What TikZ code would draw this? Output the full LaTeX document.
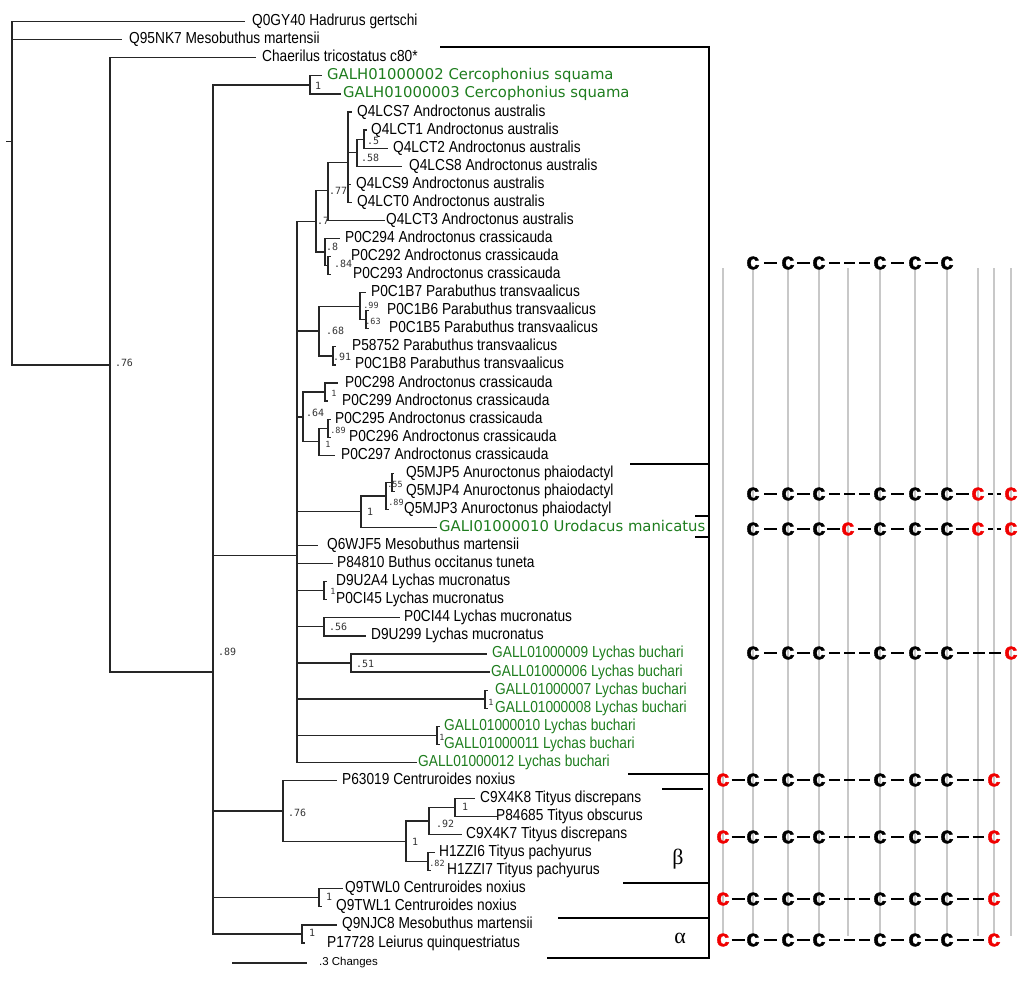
\documentclass[tikz,border=0pt]{standalone}
\usepackage{fontspec}
\setmainfont{Liberation Sans}[FakeStretch=0.86]
\newfontfamily\plainf{Liberation Sans}
\newfontfamily\djv{DejaVu Sans}
\newfontfamily\monof{DejaVu Sans Mono}
\newfontfamily\cfont{Liberation Mono}[BoldFeatures={FakeBold=2,FakeStretch=1.15}]
\newfontfamily\grk{Liberation Serif}
\definecolor{tg}{RGB}{30,125,30}
\definecolor{gl}{RGB}{200,200,200}
\definecolor{cred}{RGB}{240,0,0}
\tikzset{
 br/.style={line width=1.2bp, black!85},
 leaf/.style={anchor=west, inner sep=0pt, font=\fontsize{16}{16}\selectfont, text height=11.5bp, text depth=3.5bp},
 gleaf/.style={leaf, text=tg},
 wleaf/.style={leaf, text=tg, font=\djv\fontsize{14.9}{15}\selectfont},
 sup/.style={inner sep=0pt, font=\monof\fontsize{10}{10}\selectfont, text=black!80},
 supsm/.style={sup, font=\monof\fontsize{8.5}{8.5}\selectfont},
 bar/.style={line width=2.4bp},
 gridline/.style={gl, line width=1.6bp},
 cc/.style={inner sep=0pt, font=\cfont\bfseries\fontsize{19}{19}\selectfont},
 cr/.style={cc, text=cred},
 dashseg/.style={line width=2.6bp},
}
\newcommand\leaf[6][leaf]{%
  \coordinate (#2) at (#4,{21.7+(#3-1)*18.065});
  \node[#1] (#2-l) at ({#5-1},{21.7+(#3-1)*18.065}) {#6};}
\newcommand\cdash[4]{%
  \ifnum#4=1
    \draw[dashseg] ({(#1+#2)/2-6.5},#3) -- ({(#1+#2)/2+6.5},#3);
  \else
    \pgfmathsetmacro\dA{#1+10}%
    \pgfmathsetmacro\dL{((#2-10)-(#1+10)-4*(#4-1))/#4}%
    \foreach \k in {1,...,#4}{\draw[dashseg] ({\dA+(\k-1)*(\dL+4)},#3) -- ++(\dL,0);}%
  \fi}
\begin{document}
\begin{tikzpicture}[x=1bp,y=-1bp]
\useasboundingbox (0,0) rectangle (1024,984);
% internal nodes
\coordinate (root) at (12,141.8);
\coordinate (stub) at (6,141.8);
\coordinate (n76a) at (110,364.9);
\coordinate (n89) at (213,672);
\coordinate (nGALH) at (310,85.0);
\coordinate (nB) at (297,555.6);
\coordinate (n7) at (316,221.4);
\coordinate (n77) at (328,190.7);
\coordinate (nAA) at (348,162.8);
\coordinate (n58) at (357,152.6);
\coordinate (n5) at (364,139.1);
\coordinate (n8) at (325,252.0);
\coordinate (n84) at (328,265.6);
\coordinate (n68) at (319,331.0);
\coordinate (n99) at (360,306.2);
\coordinate (n63) at (366,319.7);
\coordinate (n91) at (333,355.9);
\coordinate (n64) at (303,416.9);
\coordinate (n1a) at (325,392.0);
\coordinate (n1b) at (319,441.7);
\coordinate (n89b) at (328,428.1);
\coordinate (n1c) at (361,511.7);
\coordinate (n89c) at (386,495.9);
\coordinate (n55) at (392,482.3);
\coordinate (nD9) at (324,590.7);
\coordinate (n56) at (324,626.8);
\coordinate (n51) at (351,663.0);
\coordinate (nG78) at (485,699.0);
\coordinate (nG1011) at (437,735.2);
\coordinate (n76b) at (283,810.9);
\coordinate (n1e) at (406,841.3);
\coordinate (n92) at (429,821.0);
\coordinate (n1d) at (455,807.5);
\coordinate (nH) at (428,861.7);
\coordinate (nQ9) at (319,897.8);
\coordinate (nA) at (302,933.9);
% leaves
\leaf{L1}{1}{245}{253}{Q0GY40 Hadrurus gertschi}
\leaf{L2}{2}{122}{130}{Q95NK7 Mesobuthus martensii}
\leaf{L3}{3}{256}{263}{Chaerilus tricostatus c80*}
\leaf[wleaf]{L4}{4}{322}{328}{GALH01000002 Cercophonius squama}
\leaf[wleaf]{L5}{5}{341}{344}{GALH01000003 Cercophonius squama}
\leaf{L6}{6}{352}{358}{Q4LCS7 Androctonus australis}
\leaf{L7}{7}{367}{372}{Q4LCT1 Androctonus australis}
\leaf{L8}{8}{388}{394}{Q4LCT2 Androctonus australis}
\leaf{L9}{9}{402}{410}{Q4LCS8 Androctonus australis}
\leaf{L10}{10}{351}{357}{Q4LCS9 Androctonus australis}
\leaf{L11}{11}{352}{358}{Q4LCT0 Androctonus australis}
\leaf{L12}{12}{385}{387}{Q4LCT3 Androctonus australis}
\leaf{L13}{13}{340}{346}{P0C294 Androctonus crassicauda}
\leaf{L14}{14}{331}{352}{P0C292 Androctonus crassicauda}
\leaf{L15}{15}{331}{354}{P0C293 Androctonus crassicauda}
\leaf{L16}{16}{366}{372}{P0C1B7 Parabuthus transvaalicus}
\leaf{L17}{17}{369}{388}{P0C1B6 Parabuthus transvaalicus}
\leaf{L18}{18}{369}{390}{P0C1B5 Parabuthus transvaalicus}
\leaf{L19}{19}{336}{353}{P58752 Parabuthus transvaalicus}
\leaf{L20}{20}{336}{356}{P0C1B8 Parabuthus transvaalicus}
\leaf{L21}{21}{338}{346}{P0C298 Androctonus crassicauda}
\leaf{L22}{22}{328}{343}{P0C299 Androctonus crassicauda}
\leaf{L23}{23}{331}{336}{P0C295 Androctonus crassicauda}
\leaf{L24}{24}{331}{350}{P0C296 Androctonus crassicauda}
\leaf{L25}{25}{335}{342}{P0C297 Androctonus crassicauda}
\leaf{L26}{26}{394}{407}{Q5MJP5 Anuroctonus phaiodactyl}
\leaf{L27}{27}{395}{407}{Q5MJP4 Anuroctonus phaiodactyl}
\leaf{L28}{28}{389}{405}{Q5MJP3 Anuroctonus phaiodactyl}
\leaf[wleaf]{L29}{29}{437}{440}{GALI01000010 Urodacus manicatus}
\leaf{L30}{30}{318}{328}{Q6WJF5 Mesobuthus martensii}
\leaf{L31}{31}{333}{338}{P84810 Buthus occitanus tuneta}
\leaf{L32}{32}{327}{337}{D9U2A4 Lychas mucronatus}
\leaf{L33}{33}{327}{337}{P0CI45 Lychas mucronatus}
\leaf{L34}{34}{400}{405}{P0CI44 Lychas mucronatus}
\leaf{L35}{35}{366}{372}{D9U299 Lychas mucronatus}
\leaf[gleaf]{L36}{36}{487}{493}{GALL01000009 Lychas buchari}
\leaf[gleaf]{L37}{37}{490}{492}{GALL01000006 Lychas buchari}
\leaf[gleaf]{L38}{38}{488}{496}{GALL01000007 Lychas buchari}
\leaf[gleaf]{L39}{39}{488}{496}{GALL01000008 Lychas buchari}
\leaf[gleaf]{L40}{40}{440}{445}{GALL01000010 Lychas buchari}
\leaf[gleaf]{L41}{41}{440}{445}{GALL01000011 Lychas buchari}
\leaf[gleaf]{L42}{42}{417}{419}{GALL01000012 Lychas buchari}
\leaf{L43}{43}{337}{343}{P63019 Centruroides noxius}
\leaf{L44}{44}{475}{481}{C9X4K8 Tityus discrepans}
\leaf{L45}{45}{497}{497}{P84685 Tityus obscurus}
\leaf{L46}{46}{462}{467}{C9X4K7 Tityus discrepans}
\leaf{L47}{47}{435}{440}{H1ZZI6 Tityus pachyurus}
\leaf{L48}{48}{431}{448}{H1ZZI7 Tityus pachyurus}
\leaf{L49}{49}{343}{346}{Q9TWL0 Centruroides noxius}
\leaf{L50}{50}{322}{337}{Q9TWL1 Centruroides noxius}
\leaf{L51}{51}{337}{343}{Q9NJC8 Mesobuthus martensii}
\leaf{L52}{52}{305}{328}{P17728 Leiurus quinquestriatus}
% branches
\draw[br] (root) -- (stub);
\foreach \p/\c in {root/L1,root/L2,root/n76a,n76a/L3,n76a/n89,
  n89/nGALH,n89/nB,n89/n76b,n89/nQ9,n89/nA,nGALH/L4,nGALH/L5,
  nB/n7,nB/n68,nB/n64,nB/n1c,nB/L30,nB/L31,nB/nD9,nB/n56,nB/n51,nB/nG78,nB/nG1011,nB/L42,
  n7/n77,n7/n8,n77/nAA,n77/L12,nAA/L6,nAA/n58,nAA/L10,nAA/L11,n58/n5,n58/L9,n5/L7,n5/L8,
  n8/L13,n8/n84,n84/L14,n84/L15,n68/n99,n68/n91,n99/L16,n99/n63,n63/L17,n63/L18,n91/L19,n91/L20,
  n64/n1a,n64/n1b,n1a/L21,n1a/L22,n1b/n89b,n1b/L25,n89b/L23,n89b/L24,
  n1c/n89c,n1c/L29,n89c/n55,n89c/L28,n55/L26,n55/L27,
  nD9/L32,nD9/L33,n56/L34,n56/L35,n51/L36,n51/L37,nG78/L38,nG78/L39,nG1011/L40,nG1011/L41,
  n76b/L43,n76b/n1e,n1e/n92,n1e/nH,n92/n1d,n92/L46,n1d/L44,n1d/L45,nH/L47,nH/L48,
  nQ9/L49,nQ9/L50,nA/L51,nA/L52}
  {\draw[br] (\p) |- (\c);}
% support values
\foreach \n/\x/\y/\t in {s1/318/86/1,s2/373/141/.5,s3/370/158/.58,s4/338/191/.77,s5/323/221/.7,
  s6/332/247/.8,s7/343/264/.84,s8/335/331/.68,s9/342/357/.91,s10/315/413/.64,s11/370/512/1,
  s12/338/627/.56,s13/365/664/.51,s14/227/652/.89,s15/124/363/.76,s16/297/813/.76,
  s17/465/807/1,s18/445/824/.92,s19/415/842/1,s20/329/897/1,s21/312/933/1}
  {\node[sup] (\n) at (\x,\y) {\t};}
\foreach \n/\x/\y/\t in {t1/371/305/.99,t2/373/321/.63,t3/334/393/1,t4/338/430/.89,t5/328/444/1,
  t6/395/484/.55,t7/396/502/.89,t8/333/591/1,t9/491/702/1,t10/442/737/1,t11/437/863/.82}
  {\node[supsm] (\n) at (\x,\y) {\t};}
% scale bar
\coordinate (sb1) at (232,963);
\coordinate (sb2) at (307,963);
\node[anchor=west, inner sep=0pt, font=\plainf\fontsize{11.5}{12}\selectfont] (sbl) at (319,963) {.3 Changes};
\draw[br] (sb1) -- (sb2);
% brackets
\coordinate (bt) at (440,47);
\coordinate (bc) at (709,47);
\coordinate (bb) at (709,958);
\coordinate (be) at (547,958);
\draw[bar] (bt) -- (bc) -- (bb) -- (be);
\foreach \a/\b/\y in {630/709/464,695/709/516,695/709/537,628/709/774,662/703/789,623/709/883,558/709/918}
  {\draw[bar] (\a,\y) -- (\b,\y);}
\node[inner sep=0pt, font=\grk\fontsize{22}{22}\selectfont] (beta) at (678,859) {β};
\node[inner sep=0pt, font=\grk\fontsize{22}{22}\selectfont] (alpha) at (680,938) {α};
% cysteine grid
\foreach \x in {723,753,788,819,848,880,915,947,978,994,1011}
  {\draw[gridline] (\x,268) -- (\x,936);}
% row A
\foreach \x in {753,788,819,880,915,947} {\node[cc] (ca\x) at (\x,263) {C};}
\foreach \a/\b/\n in {753/788/1,788/819/1,819/880/3,880/915/1,915/947/1} {\cdash{\a}{\b}{263}{\n}}
% row B
\foreach \x in {753,788,819,880,915,947} {\node[cc] (cb\x) at (\x,494) {C};}
\foreach \x in {978,1011} {\node[cr] (cb\x) at (\x,494) {C};}
\foreach \a/\b/\n in {753/788/1,788/819/1,819/880/3,880/915/1,915/947/1,947/978/1,978/1011/2} {\cdash{\a}{\b}{494}{\n}}
% row C
\foreach \x in {753,788,819,880,915,947} {\node[cc] (cc\x) at (\x,529) {C};}
\foreach \x in {848,978,1011} {\node[cr] (cc\x) at (\x,529) {C};}
\foreach \a/\b/\n in {753/788/1,788/819/1,819/848/1,848/880/1,880/915/1,915/947/1,947/978/1,978/1011/2} {\cdash{\a}{\b}{529}{\n}}
% row D
\foreach \x in {753,788,819,880,915,947} {\node[cc] (cd\x) at (\x,653) {C};}
\node[cr] (cd1011) at (1011,653) {C};
\foreach \a/\b/\n in {753/788/1,788/819/1,819/880/3,880/915/1,915/947/1,947/1011/3} {\cdash{\a}{\b}{653}{\n}}
% rows E-H
\foreach \r/\y in {e/780,f/837,g/899,h/940}{
  \foreach \x in {753,788,819,880,915,947} {\node[cc] (c\r\x) at (\x,\y) {C};}
  \node[cr] (c\r723) at (723,\y) {C};
  \node[cr] (c\r994) at (994,\y) {C};
  \foreach \a/\b/\n in {723/753/1,753/788/1,788/819/1,819/880/3,880/915/1,915/947/1,947/994/2} {\cdash{\a}{\b}{\y}{\n}}
}
\end{tikzpicture}
\end{document}
